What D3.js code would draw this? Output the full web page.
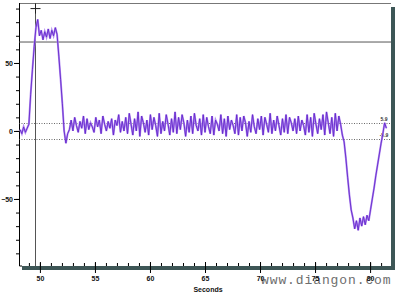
<!DOCTYPE html>
<html>
<head>
<meta charset="utf-8">
<script src="https://cdn.jsdelivr.net/npm/d3@7"></script>
<style>
  body { margin: 0; background: #fff; }
  svg { display: block; }
  .tick text { font-family: "Liberation Sans", Arial, sans-serif; font-size: 7px; font-weight: bold; fill: #111; }
</style>
</head>
<body>
<div id="chart"></div>
<script>
// canvas
var svgWidth = 397,
    svgHeight = 293;

var plot = { left: 19, right: 391, top: 3, bottom: 266 };

// sampled trace: one value every 0.16 s starting at 48.2 s
var startTime = 48.2,
    sampleStep = 0.16;

var signal = [
  // baseline, rise, plateau
  1, -2, 3, -1, 2,
  5, 27, 45, 62, 76, 82,
  70, 74, 67, 73, 69, 75, 68, 74, 70, 76, 71,
  // fall and undershoot
  55, 38, 20, 0, -9, -2, 1,
  // oscillation
  8, 0, 10, 4, -1, 7, 2, 11, -2, 9,
  1, 6, 3, -1, 10, 3, 8, -2, 11, 5,
  0, 7, 2, 9, -3, 8, 4, 12, -1, 7,
  0, 10, -2, 13, 5, -3, 9, 0, 14, -4,
  11, 6, -1, 8, -3, 12, 1, 10, 4, -4,
  13, -2, 7, 0, 12, 5, -3, 9, -1, 14,
  -2, 10, 1, 12, 6, -4, 8, -1, 11, -2,
  13, 4, 0, 9, -3, 12, -1, 10, 3, -2,
  11, -3, 8, 5, 0, 12, -2, 9, -4, 11,
  1, 8, 4, -2, 12, -3, 10, 0, 11, 6,
  -4, 7, -1, 12, 3, -2, 9, 1, 11, -3,
  10, 5, -1, 13, -2, 8, 0, 11, 4, -3,
  9, -1, 12, -2, 10, 6, 0, 9, -2, 11,
  0, 8, 4, -3, 12, -1, 10, -4, 13, 5,
  -2, 9, 1, 12, -3, 14, 6, -2, 10, -4,
  13, 0, 11, 5, -3,
  // drop, trough, recovery
  -8, -20, -34, -47, -58, -64,
  -72, -66, -73, -64, -70, -63, -69, -62, -66, -58,
  -50, -42, -33, -25, -17, -9, -2, 6, 2
];

var xMajorTicks = [50, 55, 60, 65, 70, 75, 80],
    yMajorTicks = [-50, 0, 50];

// cursors
var cursorTime = 49.6,
    cursorLevel = 65.4,
    markerLevel = 90,
    bandLevels = [5.9, -5.9],
    bandLabels = ['5.9', '-5.9'];

var xScale = d3.scaleLinear().domain([48.1, 81.9]).range([plot.left, plot.right]),
    yScale = d3.scaleLinear().domain([-99.3, 94.1]).range([plot.bottom, plot.top]);

var svg = d3.select('#chart')
  .append('svg')
  .attr('width', svgWidth)
  .attr('height', svgHeight);

// shadow bars right and bottom
var shade = '#3d5656';
svg.append('rect')
  .attr('x', plot.right).attr('y', plot.top + 4)
  .attr('width', 4).attr('height', plot.bottom - plot.top)
  .attr('fill', shade);
svg.append('rect')
  .attr('x', plot.left + 3).attr('y', plot.bottom)
  .attr('width', plot.right - plot.left + 1).attr('height', 4)
  .attr('fill', shade);

// top frame line
svg.append('line')
  .attr('x1', plot.left).attr('x2', plot.right)
  .attr('y1', plot.top + 0.5).attr('y2', plot.top + 0.5)
  .attr('stroke', '#777').attr('stroke-width', 1);

// watermark
svg.append('text')
  .attr('x', 261).attr('y', 284)
  .attr('font-family', '"Liberation Mono", "DejaVu Sans Mono", monospace')
  .attr('font-size', 13)
  .attr('letter-spacing', 0.9)
  .attr('fill', '#6d6d6d')
  .text('www.diangon.com');

// y axis
var yMinor = svg.append('g')
  .attr('transform', `translate(${plot.left},0)`)
  .call(d3.axisLeft(yScale).tickValues(d3.range(-90, 91, 10)).tickSize(3).tickFormat(''));
var yMajor = svg.append('g')
  .attr('transform', `translate(${plot.left},0)`)
  .call(d3.axisLeft(yScale).tickValues(yMajorTicks).tickSize(5).tickPadding(1).tickFormat(d3.format('d')));
yMinor.select('.domain').remove();
yMajor.select('.domain')
  .attr('d', `M0.5,${plot.top}V${plot.bottom}H3`)
  .attr('stroke', '#000');

// x axis
var xMinor = svg.append('g')
  .attr('transform', `translate(0,${plot.bottom})`)
  .call(d3.axisBottom(xScale).tickValues(d3.range(49, 82, 1)).tickSize(-3).tickFormat(''));
xMinor.select('.domain').remove();
var xMajor = svg.append('g')
  .attr('transform', `translate(0,${plot.bottom})`)
  .call(d3.axisBottom(xScale).tickValues(xMajorTicks).tickSize(7).tickPadding(3).tickFormat(d3.format('d')));
xMajor.select('.domain').remove();
xMajor.selectAll('.tick line').attr('y1', -4);

svg.append('text')
  .attr('x', 208).attr('y', 292)
  .attr('text-anchor', 'middle')
  .attr('font-family', '"Liberation Sans", Arial, sans-serif')
  .attr('font-size', 7)
  .attr('font-weight', 'bold')
  .attr('fill', '#111')
  .text('Seconds');

// cursor lines
svg.append('line')
  .attr('x1', plot.left).attr('x2', plot.right)
  .attr('y1', yScale(cursorLevel)).attr('y2', yScale(cursorLevel))
  .attr('stroke', '#555').attr('stroke-width', 1);
svg.append('line')
  .attr('x1', xScale(cursorTime)).attr('x2', xScale(cursorTime))
  .attr('y1', plot.top).attr('y2', plot.bottom)
  .attr('stroke', '#555').attr('stroke-width', 1);

svg.selectAll('.band')
  .data(bandLevels)
  .enter()
  .append('line')
  .attr('class', 'band')
  .attr('x1', plot.left).attr('x2', plot.right)
  .attr('y1', d => Math.round(yScale(d)) + 0.5)
  .attr('y2', d => Math.round(yScale(d)) + 0.5)
  .attr('stroke', '#444').attr('stroke-width', 0.8)
  .attr('stroke-dasharray', '1,1.5');

svg.selectAll('.bandLabel')
  .data(bandLevels)
  .enter()
  .append('text')
  .attr('x', 384).attr('y', d => yScale(d) - 2)
  .attr('text-anchor', 'middle')
  .attr('font-family', '"Liberation Sans", Arial, sans-serif')
  .attr('font-size', 5)
  .attr('font-weight', 'bold')
  .attr('fill', '#333')
  .text((d, i) => bandLabels[i]);

// trace
var line = d3.line()
  .x((d, i) => xScale(startTime + i * sampleStep))
  .y(d => yScale(d));

svg.append('path')
  .datum(signal)
  .attr('d', line)
  .attr('fill', 'none')
  .attr('stroke', '#b48df0')
  .attr('stroke-width', 2);
svg.append('path')
  .datum(signal)
  .attr('d', line)
  .attr('fill', 'none')
  .attr('stroke', '#6428cc')
  .attr('stroke-width', 0.9);

// peak marker
var mx = xScale(cursorTime),
    my = yScale(markerLevel);
svg.append('path')
  .attr('d', `M${mx - 5},${my}H${mx + 5}M${mx},${my - 5}V${my + 5}`)
  .attr('stroke', '#222').attr('stroke-width', 1);
</script>
</body>
</html>
